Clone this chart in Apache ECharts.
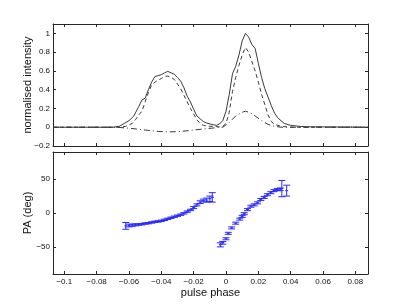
<!DOCTYPE html>
<html>
<head>
<meta charset="utf-8">
<script src="https://cdn.jsdelivr.net/npm/echarts@6/dist/echarts.min.js"></script>
<style>html,body{margin:0;padding:0;background:#fff}#c{width:407px;height:306px}</style>
</head>
<body>
<div id="c"></div>
<script>
// ---- Top panel: normalised intensity profiles ----
const totalPhase = [-0.107,-0.07,-0.066,-0.063,-0.060,-0.057,-0.054,-0.052,-0.050,-0.048,-0.046,-0.044,-0.042,-0.040,-0.038,-0.036,-0.034,-0.032,-0.030,-0.028,-0.026,-0.024,-0.022,-0.020,-0.018,-0.016,-0.014,-0.012,-0.010,-0.008,-0.006,-0.004,-0.002,0.000,0.002,0.004,0.006,0.008,0.010,0.012,0.014,0.016,0.018,0.020,0.022,0.024,0.026,0.028,0.030,0.032,0.034,0.036,0.040,0.045,0.050,0.0878];
const totalI     = [0,0,0.01,0.04,0.07,0.12,0.22,0.29,0.31,0.40,0.48,0.54,0.55,0.56,0.58,0.595,0.58,0.565,0.53,0.49,0.42,0.33,0.27,0.19,0.12,0.09,0.06,0.045,0.035,0.027,0.02,0.035,0.07,0.17,0.35,0.57,0.65,0.77,0.92,1.0,0.96,0.88,0.84,0.68,0.53,0.41,0.32,0.23,0.15,0.10,0.07,0.04,0.02,0.01,0.005,0];
const linPhase   = [-0.107,-0.066,-0.062,-0.058,-0.056,-0.054,-0.052,-0.050,-0.048,-0.046,-0.044,-0.042,-0.040,-0.038,-0.036,-0.034,-0.032,-0.030,-0.028,-0.026,-0.024,-0.022,-0.020,-0.018,-0.016,-0.014,-0.010,-0.004,-0.002,0.000,0.002,0.004,0.006,0.008,0.010,0.012,0.014,0.016,0.018,0.020,0.022,0.024,0.026,0.028,0.030,0.034,0.040,0.0878];
const linL       = [0,0,0.01,0.04,0.08,0.13,0.17,0.27,0.37,0.45,0.48,0.50,0.52,0.54,0.545,0.53,0.51,0.46,0.41,0.34,0.27,0.20,0.14,0.08,0.04,0.02,0.01,0.005,0.01,0.04,0.16,0.38,0.53,0.66,0.77,0.85,0.80,0.70,0.60,0.48,0.35,0.24,0.13,0.06,0.03,0.01,0,0];
const circPhase  = [-0.107,-0.068,-0.060,-0.050,-0.042,-0.035,-0.028,-0.020,-0.012,-0.006,-0.002,0.002,0.006,0.010,0.012,0.015,0.018,0.022,0.026,0.030,0.034,0.0878];
const circV      = [0,0,-0.01,-0.03,-0.045,-0.05,-0.045,-0.03,-0.015,-0.005,0,0.05,0.12,0.16,0.17,0.155,0.12,0.07,0.03,0.01,0,0];

// ---- Bottom panel: position angle with error bars ----
const leftPhase = [-0.062,-0.060,-0.058,-0.056,-0.054,-0.052,-0.050,-0.048,-0.046,-0.044,-0.042,-0.040,-0.038,-0.036,-0.034,-0.032,-0.030,-0.028,-0.026,-0.024,-0.022,-0.020,-0.018,-0.016,-0.014,-0.012,-0.010,-0.0085];
const leftPA    = [-19,-18.5,-18,-17.5,-17,-16.5,-15.5,-15,-14,-13,-12.5,-11.5,-10,-8.5,-7,-5.5,-4,-2.5,-0.5,2,4.5,8,12,16,18.5,19,21,23];
const leftErr   = [5,2,1.5,1.5,1,1,1,1,1,1,1,1,1,1,1,1,1,1,1,1,1,1.5,1.5,2,2,3,4,7];
const rightPhase = [-0.0035,-0.002,0.0,0.0014,0.0035,0.006,0.0085,0.010,0.0113,0.0133,0.0154,0.0174,0.0195,0.0215,0.0236,0.0256,0.0277,0.0297,0.0318,0.0335,0.0345,0.0375];
const rightPA    = [-47,-44,-38,-30,-22,-15,-9,-5,-1,5,10,12,15,20,23,27,30,33,34.5,35,36,33];
const rightErr   = [3,2,1.5,1.5,1.5,1.5,1.5,1.5,1.5,1.5,1.5,1.5,1.5,1.5,1.5,1.5,1.5,1.5,1.5,2,12,8];

const xTicks   = [-0.1,-0.08,-0.06,-0.04,-0.02,0,0.02,0.04,0.06,0.08];
const yTopTicks = [-0.2,0,0.2,0.4,0.6,0.8,1];
const yBotTicks = [-50,0,50];

const X_MIN = -0.107, X_MAX = 0.0878;
const FONT = 'Liberation Sans, Arial, Helvetica, sans-serif';
const AX = '#262626';
const fmt = v => String(+(+v).toFixed(3)).replace('-', '\u2212');

function pairs(xs, ys) { return xs.map((x, i) => [x, ys[i]]); }
function triples(xs, ys, es) { return xs.map((x, i) => [x, ys[i], es[i]]); }

function xAxisDef(grid, pos, labels, name) {
  return {
    type: 'value', gridIndex: grid, position: pos, min: X_MIN, max: X_MAX,
    axisLine: { show: true, onZero: false, lineStyle: { color: AX, width: 1 } },
    axisTick: { show: true, inside: true, length: 3, customValues: xTicks, lineStyle: { color: AX } },
    axisLabel: { show: labels, customValues: xTicks, formatter: fmt, fontFamily: FONT, fontSize: 8, color: '#111', margin: 4 },
    splitLine: { show: false },
    name: name || '', nameLocation: 'middle', nameGap: 13, nameMoveOverlap: false,
    nameTextStyle: { fontFamily: FONT, fontSize: 11, color: '#111' }
  };
}
function yAxisDef(grid, pos, min, max, ticks, labels, name) {
  return {
    type: 'value', gridIndex: grid, position: pos, min: min, max: max,
    axisLine: { show: true, onZero: false, lineStyle: { color: AX, width: 1 } },
    axisTick: { show: true, inside: true, length: 3, customValues: ticks, lineStyle: { color: AX } },
    axisLabel: { show: labels, customValues: ticks, formatter: fmt, fontFamily: FONT, fontSize: 8, color: '#111', margin: 3 },
    splitLine: { show: false },
    name: name || '', nameLocation: 'middle', nameGap: 20, nameMoveOverlap: false,
    nameTextStyle: { fontFamily: FONT, fontSize: 11, color: '#111' }
  };
}

function errRender(params, api) {
  const x = api.value(0), y = api.value(1), e = api.value(2);
  const lo = api.coord([x, y - e]), hi = api.coord([x, y + e]), c = api.coord([x, y]);
  const w = 3.5, style = { stroke: '#2a2aff', lineWidth: 1 };
  return {
    type: 'group',
    children: [
      { type: 'line', shape: { x1: lo[0], y1: lo[1], x2: hi[0], y2: hi[1] }, style },
      { type: 'line', shape: { x1: lo[0] - w, y1: lo[1], x2: lo[0] + w, y2: lo[1] }, style },
      { type: 'line', shape: { x1: hi[0] - w, y1: hi[1], x2: hi[0] + w, y2: hi[1] }, style },
      { type: 'line', shape: { x1: c[0] - 1.5, y1: c[1], x2: c[0] + 1.5, y2: c[1] }, style }
    ]
  };
}

const lineColor = '#3a3a3a';
const chart = echarts.init(document.getElementById('c'), null, { renderer: 'canvas' });
chart.setOption({
  animation: false,
  backgroundColor: '#fff',
  grid: [
    { left: 53, top: 24, width: 315, height: 122 },
    { left: 53, top: 152, width: 315, height: 122 }
  ],
  xAxis: [
    xAxisDef(0, 'bottom', false),
    xAxisDef(0, 'top', false),
    xAxisDef(1, 'bottom', true, 'pulse phase'),
    xAxisDef(1, 'top', false)
  ],
  yAxis: [
    yAxisDef(0, 'left', -0.2, 1.1, yTopTicks, true, 'normalised intensity'),
    yAxisDef(0, 'right', -0.2, 1.1, yTopTicks, false),
    yAxisDef(1, 'left', -90, 90, yBotTicks, true, 'PA (deg)'),
    yAxisDef(1, 'right', -90, 90, yBotTicks, false)
  ],
  series: [
    { type: 'line', xAxisIndex: 0, yAxisIndex: 0, data: pairs(totalPhase, totalI), showSymbol: false,
      lineStyle: { color: lineColor, width: 1, type: 'solid' } },
    { type: 'line', xAxisIndex: 0, yAxisIndex: 0, data: pairs(linPhase, linL), showSymbol: false,
      lineStyle: { color: lineColor, width: 1, type: [4, 3] } },
    { type: 'line', xAxisIndex: 0, yAxisIndex: 0, data: pairs(circPhase, circV), showSymbol: false,
      lineStyle: { color: lineColor, width: 1, type: [6, 3, 1, 3] } },
    { type: 'custom', xAxisIndex: 2, yAxisIndex: 2, data: triples(leftPhase, leftPA, leftErr), renderItem: errRender },
    { type: 'custom', xAxisIndex: 2, yAxisIndex: 2, data: triples(rightPhase, rightPA, rightErr), renderItem: errRender }
  ]
});
</script>
</body>
</html>
